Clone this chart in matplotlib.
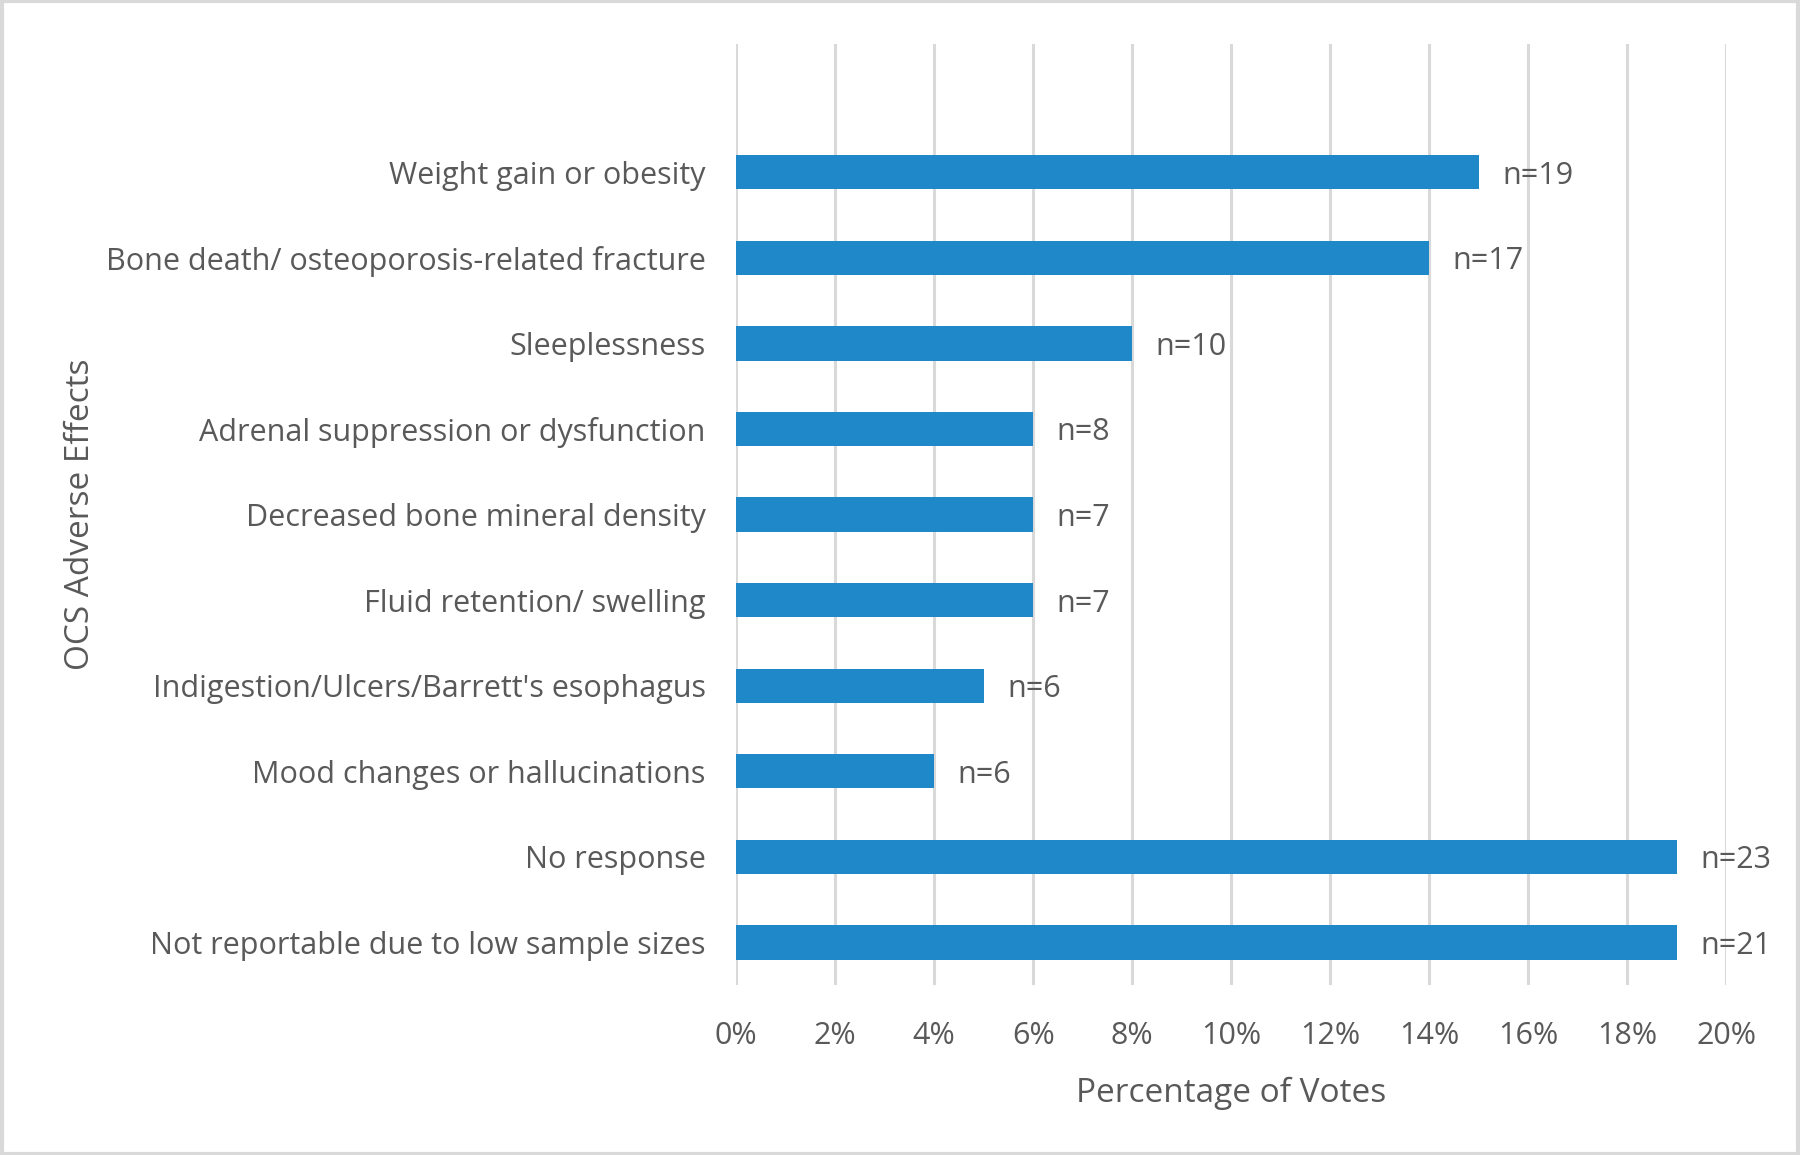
import matplotlib
matplotlib.use("Agg")
import matplotlib.pyplot as plt
from matplotlib.ticker import FuncFormatter
from matplotlib.patches import Rectangle

categories = [
    "Weight gain or obesity",
    "Bone death/ osteoporosis-related fracture",
    "Sleeplessness",
    "Adrenal suppression or dysfunction",
    "Decreased bone mineral density",
    "Fluid retention/ swelling",
    "Indigestion/Ulcers/Barrett's esophagus",
    "Mood changes or hallucinations",
    "No response",
    "Not reportable due to low sample sizes",
]
percentages = [15, 14, 8, 6, 6, 6, 5, 4, 19, 19]
counts_labels = ["n=19", "n=17", "n=10", "n=8", "n=7", "n=7", "n=6", "n=6", "n=23", "n=21"]
x_ticks = [0, 2, 4, 6, 8, 10, 12, 14, 16, 18, 20]

plt.rcParams['font.family'] = ['Open Sans', 'DejaVu Sans']
text_color = "#595959"
bar_color = "#1F88C9"
grid_color = "#D9D9D9"

fig = plt.figure(figsize=(18, 11.55), dpi=100)
ax = fig.add_axes([0.409, 0.147, 0.55, 0.815])

n = len(categories)
ypos = list(range(n))
ax.barh(ypos, percentages, height=0.4, color=bar_color, zorder=3)
ax.set_ylim(n - 0.5, -1.5)
ax.set_xlim(0, 20)
ax.set_yticks(ypos)
ax.set_yticklabels(categories, fontsize=22, color=text_color)
ax.set_xticks(x_ticks)
ax.xaxis.set_major_formatter(FuncFormatter(lambda v, p: f"{int(v)}%"))
ax.tick_params(axis='x', labelsize=22, labelcolor=text_color, length=0, pad=26)
ax.tick_params(axis='y', length=0, pad=22)
ax.grid(axis='x', color=grid_color, linewidth=2.2, zorder=0)
for s in ax.spines.values():
    s.set_visible(False)

for y, v, lab in zip(ypos, percentages, counts_labels):
    ax.annotate(lab, xy=(v, y), xytext=(17, 0), textcoords='offset points',
                va='center_baseline', ha='left', fontsize=22, color=text_color)

ax.set_xlabel("Percentage of Votes", fontsize=24, color=text_color, labelpad=18)
ax.set_ylabel("OCS Adverse Effects", fontsize=24, color=text_color)
ax.yaxis.set_label_coords(-0.646, 0.5)

fig.patches.append(Rectangle((0.001, 0.001), 0.998, 0.998, transform=fig.transFigure,
                             fill=False, edgecolor=grid_color, linewidth=3))

fig.savefig("out.png", dpi=100, facecolor="white")
